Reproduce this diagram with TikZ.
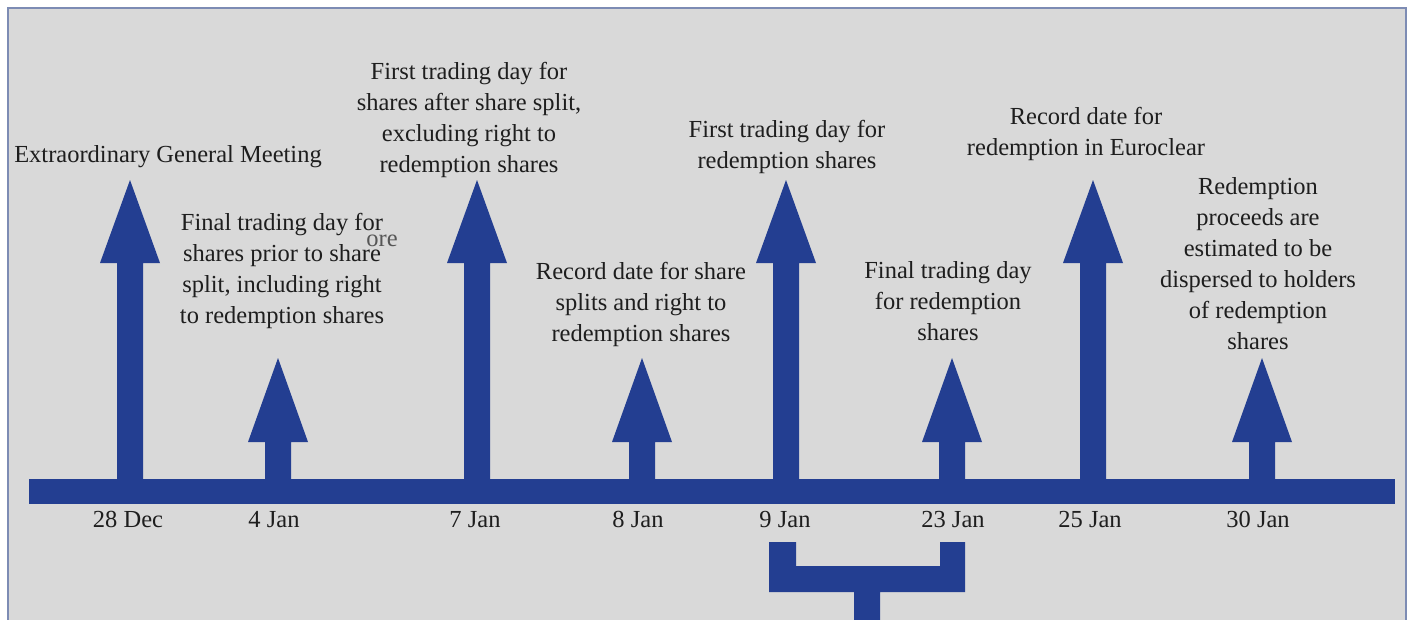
\documentclass[tikz,border=0pt]{standalone}
\usepackage{fontspec}
\setmainfont{Liberation Serif}
\definecolor{tlblue}{RGB}{35,62,145}
\definecolor{panel}{RGB}{217,217,217}
\definecolor{framec}{RGB}{125,140,180}
\definecolor{ink}{RGB}{30,30,30}
\begin{document}
\begin{tikzpicture}[x=1pt,y=-1pt,
  lbl/.style={align=center, text=ink, font=\fontsize{24.5}{31}\selectfont, inner sep=0pt},
  datelbl/.style={text=ink, font=\fontsize{24.5}{30}\selectfont, inner sep=0pt, anchor=base},
  shape fill/.style={fill=tlblue}]
\useasboundingbox (0,0) rectangle (1412,619);
\fill[white] (0,0) rectangle (1412,619);
\draw[framec, line width=2pt, fill=panel] (8,8) rectangle (1406,640);

% timeline bar
\fill[shape fill] (29,479) rectangle (1395,504);

% arrows
\foreach \x/\ap/\hb in {130/180/263, 278/358/442, 477/180/263, 642/358/442,
                        786/180/263, 952/358/442, 1093/180/263, 1262/358/442}{
  \fill[shape fill] (\x-13,490) -- (\x-13,\hb) -- (\x-30,\hb) -- (\x,\ap)
     -- (\x+30,\hb) -- (\x+13,\hb) -- (\x+13,490) -- cycle;
}

% bracket below
\fill[shape fill] (769,542) -- (796,542) -- (796,566) -- (940,566) -- (940,542)
  -- (965,542) -- (965,592) -- (880,592) -- (880,625) -- (854,625) -- (854,592)
  -- (769,592) -- cycle;

% dates
\node[datelbl] (d1) at (128,527) {28 Dec};
\node[datelbl] (d2) at (274,527) {4 Jan};
\node[datelbl] (d3) at (475,527) {7 Jan};
\node[datelbl] (d4) at (638,527) {8 Jan};
\node[datelbl] (d5) at (785,527) {9 Jan};
\node[datelbl] (d6) at (953,527) {23 Jan};
\node[datelbl] (d7) at (1090,527) {25 Jan};
\node[datelbl] (d8) at (1258,527) {30 Jan};

% event labels
\node[lbl] (e1) at (168,157) {Extraordinary General Meeting};
\node[lbl] (e2) at (282,271) {Final trading day for\\shares prior to share\\split, including right\\to redemption shares};
\node[lbl] (e3) at (469,120) {First trading day for\\shares after share split,\\excluding right to\\redemption shares};
\node[lbl] (e4) at (641,304) {Record date for share\\splits and right to\\redemption shares};
\node[lbl] (e5) at (787,147) {First trading day for\\redemption shares};
\node[lbl] (e6) at (948,301) {Final trading day\\for redemption\\shares};
\node[lbl] (e7) at (1086,134) {Record date for\\redemption in Euroclear};
\node[lbl] (e8) at (1258,264) {Redemption\\proceeds are\\estimated to be\\dispersed to holders\\of redemption\\shares};
\node[text=ink!75, font=\fontsize{24.5}{28}\selectfont, inner sep=0pt] (st) at (382,241) {ore};
\end{tikzpicture}
\end{document}
